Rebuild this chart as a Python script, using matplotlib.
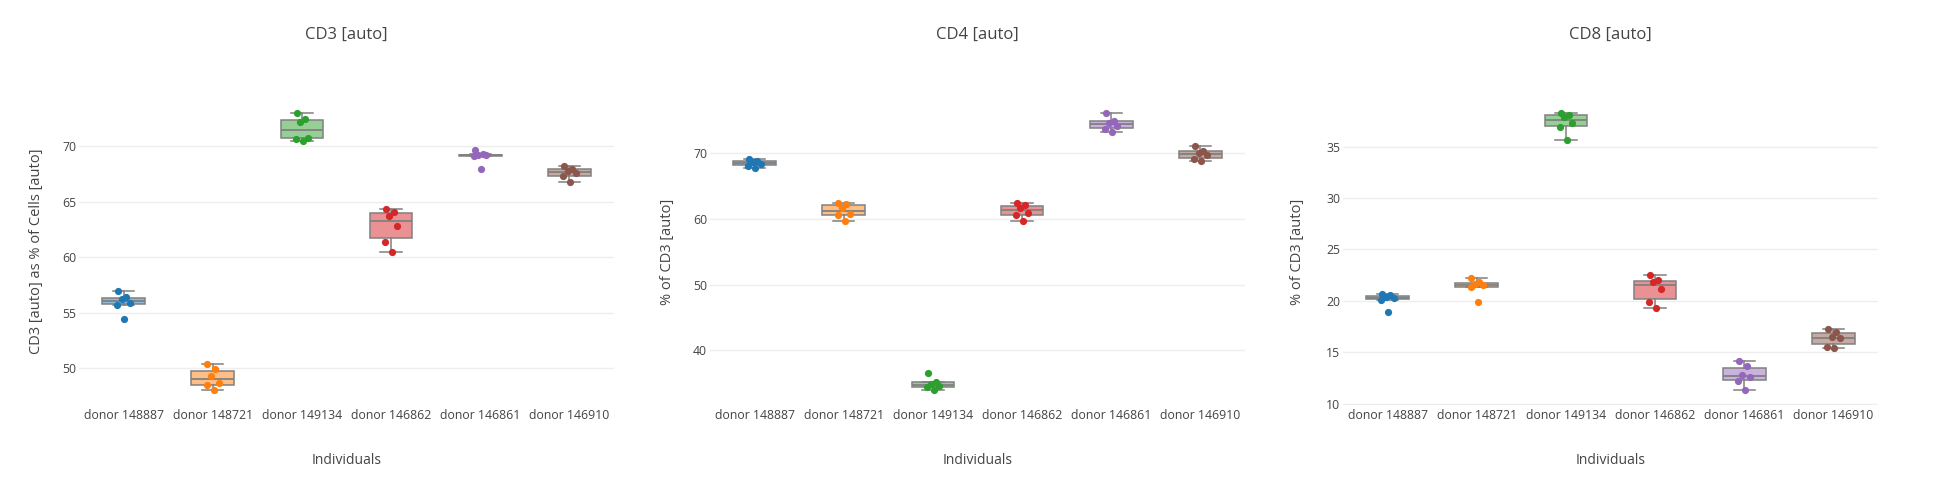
import matplotlib
matplotlib.use("Agg")
import matplotlib.pyplot as plt
from matplotlib.ticker import MultipleLocator
from matplotlib.colors import to_rgba

plt.rcParams['font.family'] = ['Open Sans', 'DejaVu Sans']

# ---------------- data ----------------
donors = ["donor 148887", "donor 148721", "donor 149134",
          "donor 146862", "donor 146861", "donor 146910"]
colors = ["#1f77b4", "#ff7f0e", "#2ca02c", "#d62728", "#9467bd", "#8c564b"]

cd3_values = [
    [57.0, 56.4, 56.2, 55.9, 55.7, 54.45],
    [50.35, 49.9, 49.3, 48.7, 48.45, 48.05],
    [73.0, 72.5, 72.2, 70.8, 70.7, 70.5],
    [64.35, 64.05, 63.7, 62.8, 61.4, 60.5],
    [69.65, 69.3, 69.2, 69.2, 69.15, 68.0],
    [68.2, 68.0, 67.8, 67.6, 67.3, 66.75],
]
cd4_values = [
    [69.1, 68.9, 68.6, 68.4, 68.1, 67.7],
    [62.5, 62.3, 61.7, 60.8, 60.6, 59.75],
    [36.6, 35.2, 34.9, 34.6, 34.4, 34.0],
    [62.5, 62.1, 61.7, 60.9, 60.6, 59.75],
    [76.1, 74.95, 74.6, 74.2, 73.7, 73.3],
    [71.1, 70.4, 70.0, 69.7, 69.15, 68.85],
]
cd8_values = [
    [20.7, 20.55, 20.4, 20.25, 20.1, 18.9],
    [22.25, 21.8, 21.6, 21.5, 21.35, 19.9],
    [38.25, 38.1, 37.9, 37.3, 36.95, 35.6],
    [22.55, 22.0, 21.8, 21.2, 19.85, 19.3],
    [14.15, 13.7, 12.8, 12.6, 12.25, 11.35],
    [17.3, 16.95, 16.45, 16.4, 15.55, 15.45],
]

titles = ["CD3 [auto]", "CD4 [auto]", "CD8 [auto]"]
ylabels = ["CD3 [auto] as % of Cells [auto]", "% of CD3 [auto]", "% of CD3 [auto]"]
xlabel = "Individuals"
panel_values = [cd3_values, cd4_values, cd8_values]

# ---------------- style ----------------
TEXT = "#444444"
GRID = "#eeeeee"
LINE = "#808080"
tick_steps = [5, 10, 5]
jitter = [-0.06, 0.03, -0.02, 0.07, -0.07, 0.01]
W, H = 1950, 497
lefts_px = [79, 710, 1343]
width_px = 535
top_px, bottom_px = 98, 405
ylabel_off_px = [42, 43, 46]

fig = plt.figure(figsize=(W / 100, H / 100), dpi=100)

for p in range(3):
    vals = panel_values[p]
    ax = fig.add_axes([lefts_px[p] / W, 1 - bottom_px / H,
                       width_px / W, (bottom_px - top_px) / H])
    positions = list(range(len(donors)))
    bp = ax.boxplot(vals, positions=positions, widths=0.48, patch_artist=True,
                    showfliers=False, whis=1.5, capwidths=0.24,
                    boxprops=dict(edgecolor=LINE, linewidth=1.1),
                    medianprops=dict(color=LINE, linewidth=1.3),
                    whiskerprops=dict(color=LINE, linewidth=1.1),
                    capprops=dict(color=LINE, linewidth=1.1),
                    zorder=2)
    for patch, c in zip(bp['boxes'], colors):
        patch.set_facecolor(to_rgba(c, 0.5))
    for i, (v, c) in enumerate(zip(vals, colors)):
        xs = [i + jitter[k % len(jitter)] for k in range(len(v))]
        ax.scatter(xs, v, s=27, color=c, zorder=3, linewidths=0)

    allv = [x for v in vals for x in v]
    lo, hi = min(allv), max(allv)
    pad = 0.055 * (hi - lo)
    ax.set_ylim(lo - pad, hi + pad)
    ax.set_xlim(-0.5, len(donors) - 0.5)
    ax.yaxis.set_major_locator(MultipleLocator(tick_steps[p]))
    ax.set_xticks(positions)
    ax.set_xticklabels(donors)
    ax.grid(axis='y', color=GRID, linewidth=1)
    ax.set_axisbelow(True)
    for s in ax.spines.values():
        s.set_visible(False)
    ax.tick_params(axis='both', length=0, labelsize=8.8, labelcolor=TEXT)
    ax.tick_params(axis='x', pad=3)
    ax.tick_params(axis='y', pad=2)

    ax.text(-ylabel_off_px[p] / width_px, 0.5, ylabels[p], transform=ax.transAxes,
            rotation=90, ha='center', va='center', fontsize=10.5, color=TEXT)
    cx = (lefts_px[p] + width_px / 2) / W
    fig.text(cx, 1 - 35 / H, titles[p], ha='center', va='center',
             fontsize=12, color=TEXT)
    fig.text(cx, 1 - 460 / H, xlabel, ha='center', va='center',
             fontsize=10, color=TEXT)

fig.savefig("out.png", dpi=100, facecolor="white")
